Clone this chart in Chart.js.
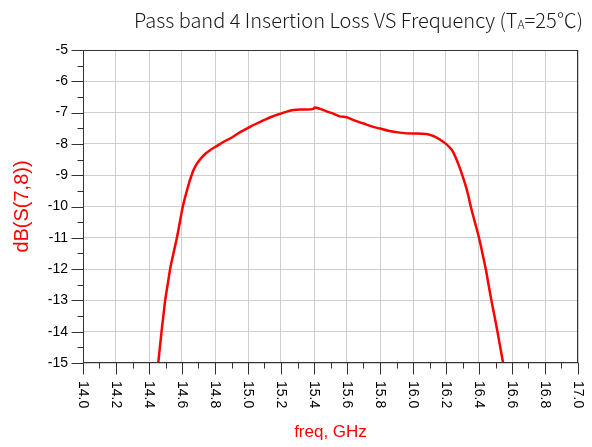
<!DOCTYPE html>
<html>
<head>
<meta charset="utf-8">
<script src="https://cdn.jsdelivr.net/npm/chart.js@4"></script>
<style>
  html, body { margin: 0; padding: 0; background: #fff; }
  #wrap { width: 592px; height: 447px; }
</style>
</head>
<body>
<div id="wrap"><canvas id="grafico" width="592" height="447"></canvas></div>
<script>
// ===== DADOS =====
const freqGHz = [
  14.456, 14.466, 14.476, 14.487, 14.498, 14.513, 14.528, 14.548, 14.569, 14.587,
  14.605, 14.620, 14.640, 14.655, 14.668, 14.685, 14.700, 14.720, 14.745, 14.770,
  14.820, 14.850, 14.910, 14.950, 14.990, 15.040, 15.093, 15.140, 15.194, 15.240,
  15.275, 15.320, 15.360, 15.396, 15.405, 15.436, 15.477, 15.520, 15.557, 15.598,
  15.640, 15.700, 15.750, 15.800, 15.850, 15.920, 16.000, 16.080, 16.120, 16.140,
  16.163, 16.180, 16.200, 16.220, 16.240, 16.260, 16.280, 16.300, 16.320, 16.335,
  16.350, 16.375, 16.400, 16.421, 16.441, 16.458, 16.475, 16.494, 16.512, 16.529,
  16.546
];
const lossDb = [
  -15.0, -14.5, -14.0, -13.5, -13.0, -12.5, -12.0, -11.5, -11.0, -10.5,
  -10.0, -9.68, -9.30, -9.05, -8.86, -8.68, -8.56, -8.43, -8.30, -8.20,
  -8.04, -7.94, -7.77, -7.63, -7.52, -7.38, -7.25, -7.14, -7.04, -6.96,
  -6.92, -6.90, -6.90, -6.88, -6.84, -6.88, -6.96, -7.04, -7.12, -7.15,
  -7.24, -7.35, -7.44, -7.51, -7.58, -7.64, -7.67, -7.68, -7.74, -7.79,
  -7.86, -7.92, -8.00, -8.10, -8.23, -8.45, -8.72, -9.02, -9.35, -9.65,
  -10.0, -10.5, -11.0, -11.5, -12.0, -12.5, -13.0, -13.5, -14.0, -14.5,
  -15.0
];
const xTickLabels = ["14.0", "14.2", "14.4", "14.6", "14.8", "15.0", "15.2", "15.4",
  "15.6", "15.8", "16.0", "16.2", "16.4", "16.6", "16.8", "17.0"];
const yTickLabels = [-15, -14, -13, -12, -11, -10, -9, -8, -7, -6, -5];

const TITULO = "Pass band 4 Insertion Loss VS Frequency (T";
const TITULO_SUB = "A";
const TITULO_FIM = "=25\u2103)";

const FONTE = "'Liberation Sans', Arial, sans-serif";
const isMajorX = v => Math.abs(v * 5 - Math.round(v * 5)) < 1e-6;
const isMajorY = v => Math.abs(v - Math.round(v)) < 1e-6;

// ===== PLUGIN: moldura, marcas, rótulos do eixo x, título =====
const moldura = {
  id: "moldura",
  afterDraw(chart) {
    const { ctx, chartArea: a, scales: { x, y } } = chart;
    ctx.save();

    // moldura
    ctx.strokeStyle = "#333";
    ctx.lineWidth = 1;
    const L = Math.round(a.left) + 0.5, R = Math.round(a.right) - 0.5;
    const T = Math.round(a.top) + 0.5, B = Math.round(a.bottom) - 0.5;
    ctx.strokeRect(L, T, R - L, B - T);

    // marcas do eixo x
    ctx.beginPath();
    x.ticks.forEach(t => {
      const px = Math.round(x.getPixelForValue(t.value)) + 0.5;
      const len = isMajorX(t.value) ? 12 : 6;
      ctx.moveTo(px, B);
      ctx.lineTo(px, B + len);
    });
    // marcas do eixo y
    y.ticks.forEach(t => {
      const py = Math.round(y.getPixelForValue(t.value)) + 0.5;
      const len = isMajorY(t.value) ? 12 : 6;
      ctx.moveTo(L, py);
      ctx.lineTo(L - len, py);
    });
    ctx.stroke();

    // rótulos x girados (leitura de cima para baixo)
    ctx.fillStyle = "#000";
    ctx.font = "14px " + FONTE;
    ctx.textAlign = "left";
    ctx.textBaseline = "middle";
    xTickLabels.forEach(lbl => {
      const px = x.getPixelForValue(parseFloat(lbl));
      ctx.save();
      ctx.translate(px, a.bottom + 18);
      ctx.rotate(Math.PI / 2);
      ctx.fillText(lbl, 0, 0);
      ctx.restore();
    });

    // título com subscrito
    const fTit = "'Noto Sans CJK SC', 'Noto Sans', sans-serif";
    ctx.fillStyle = "#1a1a1a";
    ctx.textBaseline = "alphabetic";
    ctx.font = "300 20px " + fTit;
    const w1 = ctx.measureText(TITULO).width;
    const w3 = ctx.measureText(TITULO_FIM).width;
    ctx.font = "300 12px " + fTit;
    const w2 = ctx.measureText(TITULO_SUB).width;
    const total = w1 + w2 + w3;
    let tx = 583 - total;
    const base = 28;
    ctx.font = "300 20px " + fTit;
    ctx.fillText(TITULO, tx, base);
    tx += w1;
    ctx.font = "300 12px " + fTit;
    ctx.fillText(TITULO_SUB, tx, base + 1);
    tx += w2;
    ctx.font = "300 20px " + fTit;
    ctx.fillText(TITULO_FIM, tx, base);

    ctx.restore();
  }
};

// ===== GRÁFICO =====
const ctx = document.getElementById("grafico").getContext("2d");

new Chart(ctx, {
  type: "line",
  data: {
    datasets: [{
      label: "dB(S(7,8))",
      data: freqGHz.map((f, i) => ({ x: f, y: lossDb[i] })),
      borderColor: "#ff0000",
      borderWidth: 2.5,
      pointRadius: 0,
      cubicInterpolationMode: "monotone",
      fill: false,
    }]
  },
  options: {
    responsive: false,
    animation: false,
    devicePixelRatio: 1,
    layout: { padding: { top: 50, right: 14, left: 0, bottom: 0 } },
    plugins: {
      legend: { display: false },
      title: { display: false },
      tooltip: { enabled: false },
    },
    scales: {
      x: {
        type: "linear",
        min: 14,
        max: 17,
        afterFit: s => { s.height = 84; },
        ticks: { stepSize: 0.1, display: false, autoSkip: false },
        grid: {
          drawTicks: false,
          color: c => isMajorX(c.tick.value) ? "#cfcfcf" : "rgba(0,0,0,0)",
          lineWidth: 1,
        },
        border: { display: false },
        title: {
          display: true,
          text: "freq, GHz",
          color: "#ff0000",
          font: { family: FONTE, size: 17 },
          padding: { top: 0, bottom: 4 },
        },
      },
      y: {
        type: "linear",
        min: -15,
        max: -5,
        afterFit: s => { s.width = 83; },
        ticks: {
          stepSize: 0.5,
          autoSkip: false,
          padding: 15,
          color: "#000",
          font: { family: FONTE, size: 14 },
          callback: v => yTickLabels.includes(Math.round(v * 1000) / 1000) ? String(Math.round(v)) : "",
        },
        grid: {
          drawTicks: false,
          color: c => isMajorY(c.tick.value) ? "#cfcfcf" : "rgba(0,0,0,0)",
          lineWidth: 1,
        },
        border: { display: false },
        title: {
          display: true,
          text: "dB(S(7,8))",
          color: "#ff0000",
          font: { family: FONTE, size: 20 },
          padding: { top: 10, bottom: 0 },
        },
      },
    },
  },
  plugins: [moldura],
});
</script>
</body>
</html>
